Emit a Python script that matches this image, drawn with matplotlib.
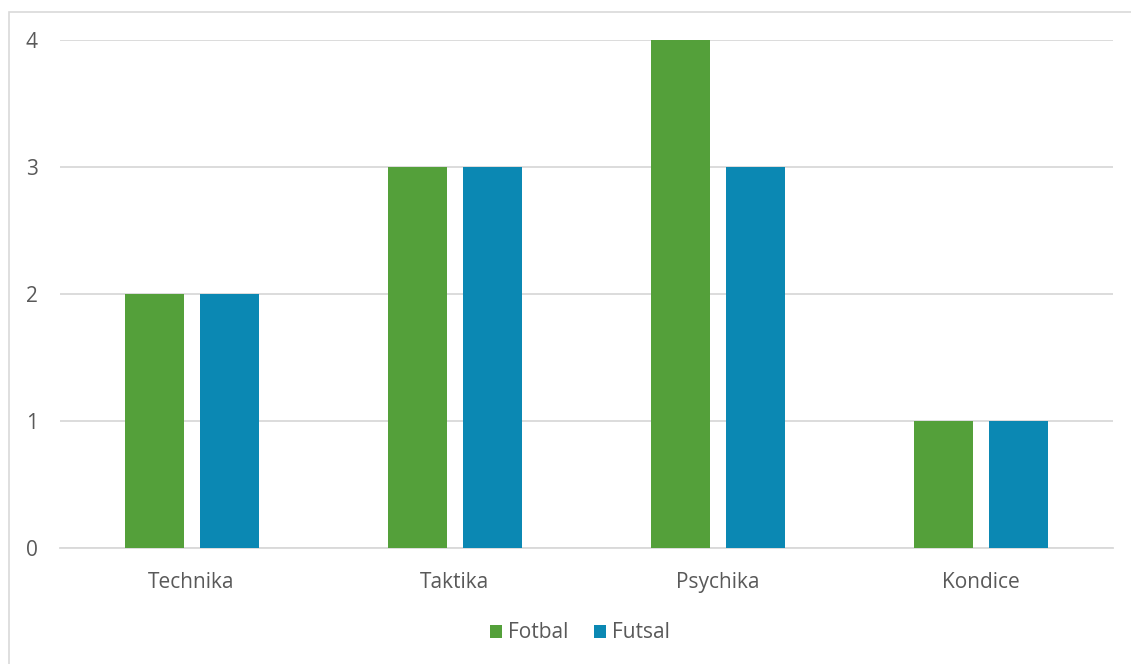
import matplotlib.pyplot as plt
from matplotlib.patches import Rectangle
import numpy as np

# data
categories = ["Technika", "Taktika", "Psychika", "Kondice"]
fotbal = [2, 3, 4, 1]
futsal = [2, 3, 3, 1]
series_names = ["Fotbal", "Futsal"]

# look
W, H = 1131, 664
GREEN = '#54A03A'
BLUE = '#0B88B3'
GRID = '#D9D9D9'
TEXT = '#595959'
FONT = 'Open Sans'
FONT_SIZE = 15
BAR_W = 0.224
OFFSET = 0.1426

plt.rcParams['font.family'] = [FONT, 'DejaVu Sans']

fig = plt.figure(figsize=(W / 100, H / 100), dpi=100)
ax = fig.add_axes([60 / W, 1 - 548 / H, (1113 - 60) / W, (548 - 40) / H])

# outer chart border (cropped at right and bottom)
fig.patches.append(Rectangle((9 / W, -0.5), 2.0, 1 - 12 / H + 0.5,
                             transform=fig.transFigure, fill=False,
                             edgecolor=GRID, linewidth=1.2, zorder=0))

x = np.arange(len(categories))
ax.bar(x - OFFSET, fotbal, BAR_W, color=GREEN, label=series_names[0], zorder=3)
ax.bar(x + OFFSET, futsal, BAR_W, color=BLUE, label=series_names[1], zorder=3)

ax.set_xlim(-0.5, len(categories) - 0.5)
ax.set_ylim(0, 4)
ax.set_yticks([0, 1, 2, 3, 4])
ax.yaxis.grid(True, color=GRID, linewidth=1.3, zorder=0)
ax.set_axisbelow(True)

for s in ['top', 'right', 'left']:
    ax.spines[s].set_visible(False)
ax.spines['bottom'].set_color(GRID)
ax.spines['bottom'].set_linewidth(1.3)

ax.set_xticks(x)
ax.set_xticklabels(categories)
ax.tick_params(axis='both', length=0, colors=TEXT, labelsize=FONT_SIZE)
ax.tick_params(axis='y', pad=16)
ax.tick_params(axis='x', pad=17)

fig.legend(loc='center', bbox_to_anchor=(580 / W, 1 - 633 / H), ncol=2,
           frameon=False, fontsize=FONT_SIZE, labelcolor=TEXT, handlelength=0.6,
           handleheight=0.6, handletextpad=0.3, columnspacing=1.2)

plt.savefig('out.png', dpi=100)
